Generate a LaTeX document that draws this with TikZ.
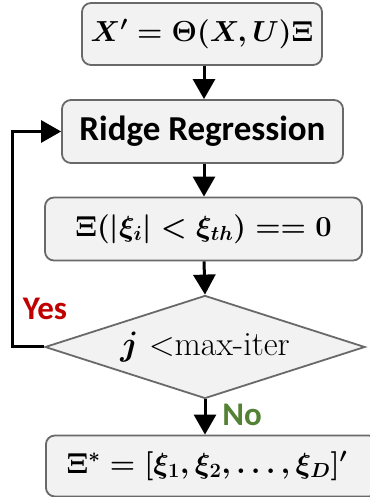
\RequirePackage{fix-cm}
\documentclass[tikz,border=0pt]{standalone}
\usepackage{amsmath}
\usepackage{fontspec}
\newfontfamily\calib{Carlito}
\usetikzlibrary{shapes.geometric,arrows.meta}
\definecolor{boxfill}{RGB}{242,242,242}
\definecolor{boxline}{RGB}{105,105,105}
\definecolor{yesred}{RGB}{192,0,0}
\definecolor{nogreen}{RGB}{84,130,53}
\begin{document}
\begin{tikzpicture}[x=1pt,y=1pt,
  box/.style={draw=boxline,fill=boxfill,line width=1.8pt,rounded corners=9pt,inner sep=0pt,font=\fontsize{29}{35}\selectfont\boldmath},
  arr/.style={line width=3pt,-{Triangle[width=22pt,length=20pt]}},
  lbl/.style={font=\calib\bfseries\fontsize{33}{40}\selectfont}]
\useasboundingbox (0,0) rectangle (369,497);
\node[box,minimum width=240,minimum height=62] (b1) at (202,463) {$X' = \Theta(X,U)\Xi$};
\node[box,minimum width=281,minimum height=63,font=\calib\bfseries\fontsize{35}{42}\selectfont] (b2) at (202.5,365.5) {Ridge Regression};
\node[box,minimum width=317,minimum height=63] (b3) at (203.5,268) {$\Xi(|\xi_i| < \xi_{th}) == 0$};
\node[draw=boxline,fill=boxfill,line width=1.8pt,diamond,aspect=3.1,minimum width=320,minimum height=103,inner sep=0pt,font=\fontsize{34}{40}\selectfont] (d) at (205,150) {{\boldmath$j$} $<$max-iter};
\node[box,minimum width=332,minimum height=61,anchor=west] (b4) at (45,31) {\hspace*{-10pt}$\Xi^* = [\xi_1,\xi_2,\ldots,\xi_D]'$};
\draw[arr] (b1.south -| 204,0) -- (b2.north -| 204,0);
\draw[arr] (b2.south -| 204,0) -- (b3.north -| 204,0);
\draw[arr] (b3.south -| 204,0) -- (d.north);
\draw[arr] (d.south) -- (b4.north -| d.south);
\coordinate (l1) at (12,150);
\coordinate (l2) at (12,365.5);
\draw[line width=3pt,-{Triangle[width=22pt,length=20pt]}] (d.west) -- (l1) -- (l2) -- (b2.west);
\node[lbl,text=yesred] (yes) at (45,188) {Yes};
\node[lbl,text=nogreen] (no) at (242,82) {No};
\end{tikzpicture}
\end{document}
